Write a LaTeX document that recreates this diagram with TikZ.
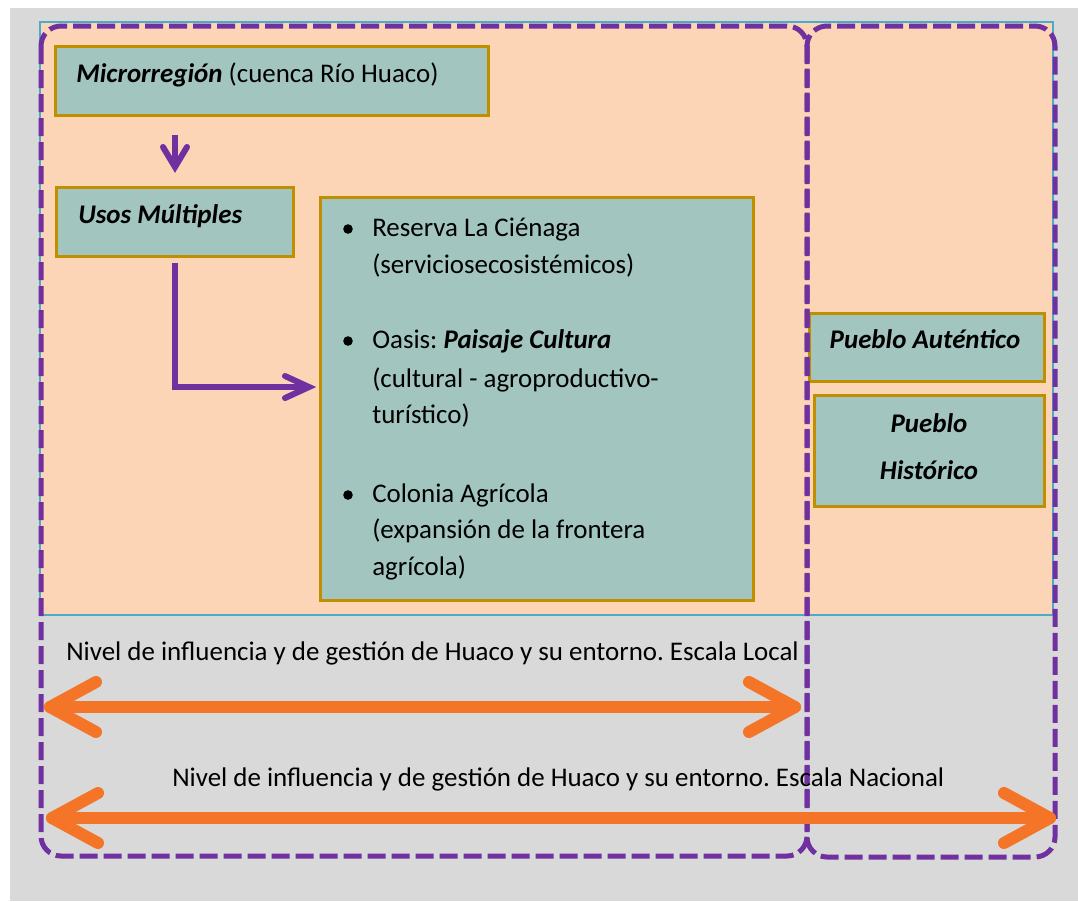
\documentclass[tikz,border=0pt]{standalone}
\usepackage{fontspec}
\setmainfont{Carlito}
\usetikzlibrary{calc}
\frenchspacing
\definecolor{bggray}{HTML}{D9D9D9}
\definecolor{peach}{HTML}{FBD5B5}
\definecolor{tealline}{HTML}{4BACC6}
\definecolor{boxfill}{HTML}{A3C5BF}
\definecolor{gold}{HTML}{BF8F00}
\definecolor{purp}{HTML}{7030A0}
\definecolor{orng}{HTML}{F47528}
\tikzset{
  boxnode/.style={draw=gold, line width=2.25pt, fill=boxfill, inner sep=0pt},
  txt/.style={inner sep=0pt, anchor=base west, font=\fontsize{20.2}{28}\selectfont},
  ctxt/.style={inner sep=0pt, anchor=base, font=\fontsize{20.2}{28}\selectfont\bfseries\itshape},
  dashrect/.style={draw=purp, line width=3.75pt, dash pattern=on 13.5pt off 4.5pt, rounded corners=15pt},
  purpline/.style={draw=purp, line width=4.5pt, line join=miter},
  orngline/.style={draw=orng, line width=9pt, line cap=round, line join=round},
}
\begin{document}
\begin{tikzpicture}[x=0.75pt, y=-0.75pt]
\useasboundingbox (0,0) rectangle (1078,901);
% backgrounds
\fill[bggray] (10,8) rectangle (1078,901);
\filldraw[fill=peach, draw=tealline, line width=1.1pt] (40,22) rectangle (1053,615);

% boxes
\node[boxnode, minimum width=324.75pt, minimum height=51.75pt] (micro) at (271.5,80.5) {};
\node[boxnode, minimum width=177.75pt, minimum height=51.75pt] (usos) at (174.5,221.5) {};
\node[boxnode, minimum width=324.75pt, minimum height=302.25pt] (big) at (536.5,398.5) {};
\node[boxnode, minimum width=176.25pt, minimum height=51pt] (pa) at (926.5,347) {};
\node[boxnode, minimum width=172.5pt, minimum height=83.25pt] (ph) at (929,450.5) {};

% texts in boxes
\node[txt] (tmicro) at (76,82) {\textbf{\textit{Microrregión}} (cuenca Río Huaco)};
\node[txt] (tusos) at (78,223) {\textbf{\textit{Usos Múltiples}}};
\node[ctxt] (tpa) at (925,348) {Pueblo Auténtico};
\node[ctxt] (tph1) at (929,432) {Pueblo};
\node[ctxt] (tph2) at (929,479) {Histórico};

% bullet list
\foreach \n/\yy in {b1/236, b2/348, b3/502} {
  \fill (348,\yy-7) circle (4.8) coordinate (\n);
}
\node[txt] (l1) at (372,236) {Reserva La Ciénaga};
\node[txt] (l2) at (372,273) {(serviciosecosistémicos)};
\node[txt] (l3) at (372,348) {Oasis: \textbf{\textit{Paisaje Cultura}}};
\node[txt] (l4) at (372,387) {(cultural - agroproductivo-};
\node[txt] (l5) at (372,423) {turístico)};
\node[txt] (l6) at (372,502) {Colonia Agrícola};
\node[txt] (l7) at (372,538) {(expansión de la frontera};
\node[txt] (l8) at (372,575) {agrícola)};

% purple arrows
\coordinate (d1) at (175,135);
\coordinate (d2) at (175,167);
\draw[purpline] (d1) -- (d2);
\draw[purpline, line cap=round] ($(d2)+(-12,-20)$) -- (d2) -- ($(d2)+(12,-20)$);
\coordinate (e1) at (175,263);
\coordinate (e2) at (175,387);
\coordinate (e3) at (309,387);
\draw[purpline] (e1) -- (e2) -- (e3);
\draw[purpline, line cap=round] ($(e3)+(-24,-11)$) -- (e3) -- ($(e3)+(-24,11)$);

% dashed regions
\draw[dashrect] (41,26) rectangle (807,856);
\draw[dashrect] (807,26) rectangle (1055,857);

% level texts
\node[txt] (n1) at (66,660) {Nivel de influencia y de gestión de Huaco y su entorno. Escala Local};
\node[txt] (n2) at (172,786) {Nivel de influencia y de gestión de Huaco y su entorno. Escala Nacional};

% orange arrows
\coordinate (oa1) at (50,707);
\coordinate (ob1) at (795,707);
\draw[orngline] (oa1) -- (ob1);
\draw[orngline] ($(oa1)+(46,-25)$) -- (oa1) -- ($(oa1)+(46,25)$);
\draw[orngline] ($(ob1)+(-46,-25)$) -- (ob1) -- ($(ob1)+(-46,25)$);
\coordinate (oa2) at (52,818);
\coordinate (ob2) at (1050,818);
\draw[orngline] (oa2) -- (ob2);
\draw[orngline] ($(oa2)+(46,-25)$) -- (oa2) -- ($(oa2)+(46,25)$);
\draw[orngline] ($(ob2)+(-46,-25)$) -- (ob2) -- ($(ob2)+(-46,25)$);
\end{tikzpicture}
\end{document}
